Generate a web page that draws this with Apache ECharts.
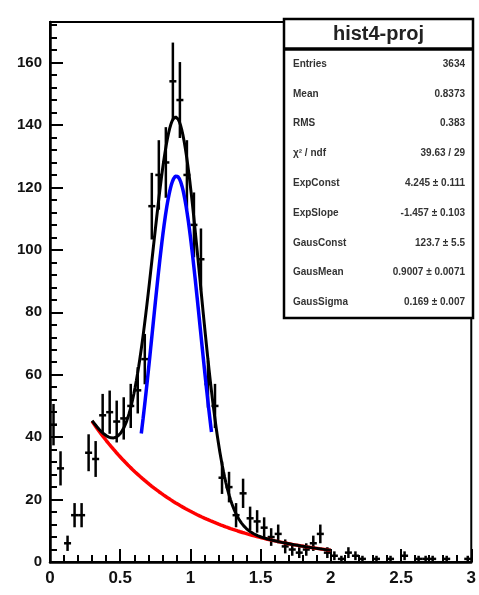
<!DOCTYPE html>
<html>
<head>
<meta charset="utf-8">
<script src="https://cdn.jsdelivr.net/npm/echarts@6/dist/echarts.min.js"></script>
<style>
  html, body { margin: 0; padding: 0; background: #fff; }
  #chart { width: 479px; height: 595px; }
</style>
</head>
<body>
<div id="chart"></div>
<script>
// hist4-proj: 60 bins of width 0.05 over [0, 3]
const binLow = 0;
const binWidth = 0.05;
const binCounts = [
  44, 30, 6, 15, 15, 35, 33, 47, 48, 45,
  46, 50, 55, 65, 114, 124, 128, 154, 148, 124,
  108, 97, 57, 50, 27, 24, 15, 22, 14, 13,
  11, 8, 9, 5, 4, 3, 4, 6, 9, 3,
  2, 1, 3, 2, 1, 0, 1, 0, 1, 0,
  2, 0, 1, 1, 1, 0, 1, 0, 0, 1
];

// axis ticks
const xMajorTicks = [0, 0.5, 1, 1.5, 2, 2.5, 3];
const yMajorTicks = [0, 20, 40, 60, 80, 100, 120, 140, 160];
const yMax = 173;

// fit results: expo + gaus
const expConst = 4.245;
const expSlope = -1.457;
const gausConst = 123.7;
const gausMean = 0.9007;
const gausSigma = 0.169;
const fitRange = [0.3, 2.0];
const gausRange = [0.65, 1.15];

// statistics box
const statTitle = 'hist4-proj';
const statNames = ['Entries', 'Mean', 'RMS', 'χ² / ndf', 'ExpConst', 'ExpSlope', 'GausConst', 'GausMean', 'GausSigma'];
const statValues = ['3634', '0.8373', '0.383', '39.63 / 29', '4.245 ± 0.111', '-1.457 ± 0.103', '123.7 ± 5.5', '0.9007 ± 0.0071', '0.169 ± 0.007'];

const expoF = x => Math.exp(expConst + expSlope * x);
const gausF = x => gausConst * Math.exp(-0.5 * Math.pow((x - gausMean) / gausSigma, 2));
function sample(f, lo, hi) {
  const pts = [];
  const n = 200;
  for (let i = 0; i <= n; i++) {
    const x = lo + (hi - lo) * i / n;
    pts.push([x, f(x)]);
  }
  return pts;
}

const histPoints = binCounts
  .map((c, i) => [binLow + binWidth * (i + 0.5), c])
  .filter(p => p[1] > 0);

const FONT = 'Liberation Sans, Arial, Helvetica, sans-serif';
const chart = echarts.init(document.getElementById('chart'), null, { renderer: 'canvas' });

const tickStyle = { color: '#000', width: 2 };

const option = {
  animation: false,
  backgroundColor: '#fff',
  grid: {
    left: 50, right: 6, top: 22, bottom: 33,
    show: true, borderColor: '#000', borderWidth: 2, backgroundColor: 'transparent'
  },
  xAxis: [
    {
      type: 'value', min: xMajorTicks[0], max: xMajorTicks[xMajorTicks.length - 1], interval: 0.5,
      axisLine: { lineStyle: { color: '#000', width: 2.5 } },
      axisTick: { inside: true, length: 13, lineStyle: tickStyle },
      axisLabel: {
        color: '#111', fontSize: 17, fontWeight: 'bold', fontFamily: FONT, margin: 8,
        formatter: v => String(+v.toFixed(2))
      },
      splitLine: { show: false }
    },
    {
      type: 'value', min: 0, max: 3, interval: 0.1, position: 'bottom',
      axisLine: { show: false },
      axisTick: { inside: true, length: 7, lineStyle: tickStyle },
      axisLabel: { show: false },
      splitLine: { show: false }
    }
  ],
  yAxis: [
    {
      type: 'value', min: 0, max: yMax, interval: 20,
      axisLine: { show: true, lineStyle: { color: '#000', width: 2.5 } },
      axisTick: { show: true, inside: true, length: 13, lineStyle: tickStyle },
      axisLabel: {
        color: '#111', fontSize: 15, fontWeight: 'bold', fontFamily: FONT, margin: 8,
        showMaxLabel: false,
        formatter: v => (yMajorTicks.indexOf(v) >= 0 ? String(v) : '')
      },
      splitLine: { show: false }
    },
    {
      type: 'value', min: 0, max: yMax, interval: 4, position: 'left',
      axisLine: { show: false },
      axisTick: { show: true, inside: true, length: 7, lineStyle: tickStyle },
      axisLabel: { show: false },
      splitLine: { show: false }
    }
  ],
  series: [
    {
      name: 'hist',
      type: 'custom',
      xAxisIndex: 0, yAxisIndex: 0,
      clip: true,
      data: histPoints,
      renderItem: (params, api) => {
        const x = api.value(0);
        const n = api.value(1);
        const e = Math.sqrt(n);
        const pl = api.coord([x - binWidth / 2, n]);
        const pr = api.coord([x + binWidth / 2, n]);
        const pt = api.coord([x, n + e]);
        const pb = api.coord([x, Math.max(0, n - e)]);
        const st = { stroke: '#000', lineWidth: 2.5 };
        return {
          type: 'group',
          children: [
            { type: 'line', shape: { x1: pl[0], y1: pl[1], x2: pr[0], y2: pr[1] }, style: st },
            { type: 'line', shape: { x1: pt[0], y1: pt[1], x2: pb[0], y2: pb[1] }, style: st }
          ]
        };
      },
      z: 3
    },
    {
      name: 'expo',
      type: 'line', showSymbol: false, smooth: false,
      data: sample(expoF, fitRange[0], fitRange[1]),
      lineStyle: { color: '#ff0000', width: 3.5 },
      z: 4
    },
    {
      name: 'gaus',
      type: 'line', showSymbol: false, smooth: false,
      data: sample(gausF, gausRange[0], gausRange[1]),
      lineStyle: { color: '#0000ff', width: 3.5 },
      z: 4
    },
    {
      name: 'total',
      type: 'line', showSymbol: false, smooth: false,
      data: sample(x => expoF(x) + gausF(x), fitRange[0], fitRange[1]),
      lineStyle: { color: '#000', width: 3 },
      z: 5
    }
  ],
  graphic: []
};

// statistics box drawn over the frame corner
const boxL = 284, boxR = 473, titleTop = 19, titleBot = 48, boxBot = 318;
const rowTop = 64, rowStep = 29.8;
option.graphic.push(
  { type: 'rect', shape: { x: boxL, y: titleTop, width: boxR - boxL, height: boxBot - titleTop },
    style: { fill: '#fff', stroke: '#000', lineWidth: 2.5 }, z: 100 },
  { type: 'line', shape: { x1: boxL, y1: titleBot + 1, x2: boxR, y2: titleBot + 1 },
    style: { stroke: '#000', lineWidth: 3.5 }, z: 101 },
  { type: 'text', x: (boxL + boxR) / 2, y: (titleTop + titleBot) / 2 + 1,
    style: { text: statTitle, fill: '#222', font: 'bold 20px ' + FONT, align: 'center', verticalAlign: 'middle' }, z: 102 }
);
statNames.forEach((name, i) => {
  const y = rowTop + rowStep * i;
  option.graphic.push(
    { type: 'text', x: 293, y: y,
      style: { text: name, fill: '#333', font: 'bold 10px ' + FONT, align: 'left', verticalAlign: 'middle' }, z: 102 },
    { type: 'text', x: 465, y: y,
      style: { text: statValues[i], fill: '#333', font: 'bold 10px ' + FONT, align: 'right', verticalAlign: 'middle' }, z: 102 }
  );
});

chart.setOption(option);
</script>
</body>
</html>
